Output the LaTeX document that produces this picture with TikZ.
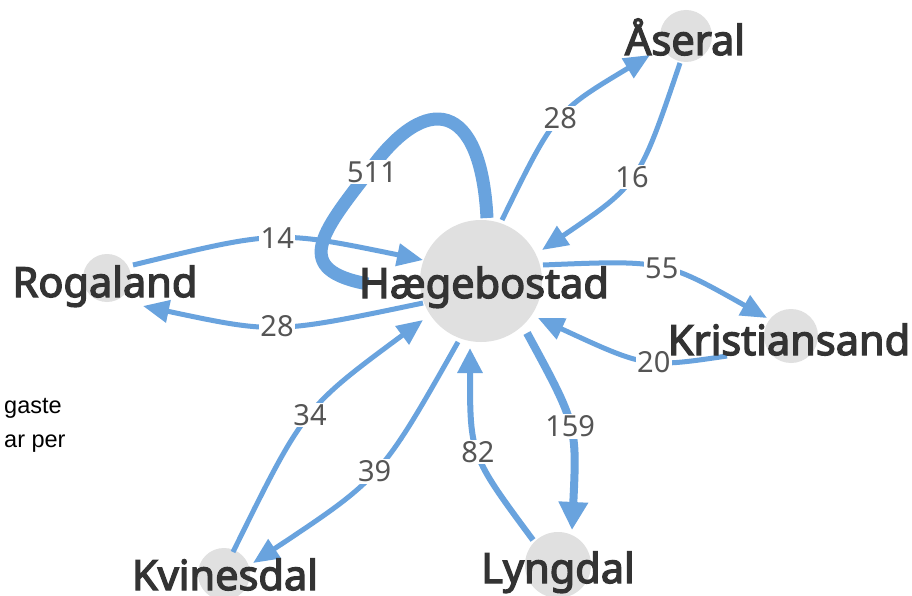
\documentclass[tikz,border=0pt]{standalone}
\usepackage{fontspec}
\setmainfont{Noto Sans}[AutoFakeBold=3.2]
\newfontfamily\legfont{Liberation Sans}
\usetikzlibrary{arrows.meta,calc}
\definecolor{edgeblue}{RGB}{105,163,222}
\definecolor{nodegray}{RGB}{224,224,224}
\definecolor{labtext}{RGB}{51,51,51}
\definecolor{numtext}{RGB}{85,85,85}
\begin{document}
\begin{tikzpicture}[x=1pt,y=-1pt,
  vert/.style={circle,fill=nodegray,inner sep=0pt,minimum size=#1},
  vlabel/.style={font=\bfseries\fontsize{41.5}{46}\selectfont,text=labtext,inner sep=0pt,anchor=base},
  num/.style={font=\fontsize{29}{32}\selectfont,text=numtext,fill=white,inner sep=1.5pt},
  flow/.style={draw=edgeblue,line width=5pt,-{Triangle[length=26pt,width=22pt]}},
  legend/.style={font=\legfont\fontsize{23.5}{27}\selectfont,text=black,inner sep=0pt,anchor=base west},
]
\useasboundingbox (0,0) rectangle (912,596);
\fill[white] (0,0) rectangle (912,596);

% legend fragment
\node[legend] (leg1) at (4,413) {gaste};
\node[legend] (leg2) at (4,447) {ar per};

% vertices
\node[vert=122pt] (hae) at (481,281) {};
\node[vert=52pt] (ase) at (686,36) {};
\node[vert=48pt] (rog) at (107,278) {};
\node[vert=54pt] (kri) at (791,336) {};
\node[vert=52pt] (kvi) at (224,574) {};
\node[vert=66pt] (lyn) at (558,565) {};

% self loop (its end runs under the label)
\draw[draw=edgeblue,line width=13pt]
  ($(hae)+(6,-63)$) .. controls (481,100) and (426,92) .. (370,170)
  .. controls (320,234) and (292,270) .. ($(hae)+(-113,3)$);
\node[num] (l511) at (372,172) {511};

% edges
\draw[flow] ($(hae)+(21,-61)$) .. controls (555,112) .. ($(ase)+(-36,19)$) node[num,pos=.5] (l1) {28};
\draw[flow] ($(ase)+(-6,27)$) .. controls (639,184) .. ($(hae)+(61,-31)$) node[num,pos=.5] (l2) {16};
\draw[flow] ($(rog)+(26,-13)$) .. controls (277,230) .. ($(hae)+(-58,-21)$) node[num,pos=.5] (l4) {14};
\draw[flow] ($(hae)+(-58,22)$) .. controls (275,334) .. ($(rog)+(36,28)$) node[num,pos=.5] (l5) {28};
\draw[flow] ($(hae)+(62,-16)$) .. controls (664,260) .. ($(kri)+(-24,-18)$) node[num,pos=.5] (l6) {55};
\draw[flow] ($(kri)+(-64,20)$) .. controls (646,368) .. ($(hae)+(57,37)$) node[num,pos=.42] (l7) {20};
\draw[flow] ($(kvi)+(9,-22)$) .. controls (304,408) .. ($(hae)+(-58,39)$) node[num,pos=.5] (l8) {34};
\draw[flow] ($(hae)+(-23,61)$) .. controls (381,478) .. ($(kvi)+(29,-11)$) node[num,pos=.5] (l9) {39};
\draw[flow,line width=6pt,-{Triangle[length=25pt,width=24pt]}] ($(lyn)+(-25,-25)$) .. controls (470,455) .. ($(hae)+(-11,67)$) node[num,pos=.5] (l10) {82};
\draw[flow,line width=8pt,-{Triangle[length=28pt,width=28pt]}] ($(hae)+(46,52)$) .. controls (577,425) .. ($(lyn)+(14,-35)$) node[num,pos=.5] (l11) {159};

% vertex labels
\node[vlabel] (haeL) at (484,298) {Hægebostad};
\node[vlabel] (aseL) at (685,55) {Åseral};
\node[vlabel] (rogL) at (105,297) {Rogaland};
\node[vlabel] (kriL) at (789,355) {Kristiansand};
\node[vlabel] (kviL) at (225,590) {Kvinesdal};
\node[vlabel] (lynL) at (558,583) {Lyngdal};
\end{tikzpicture}
\end{document}
